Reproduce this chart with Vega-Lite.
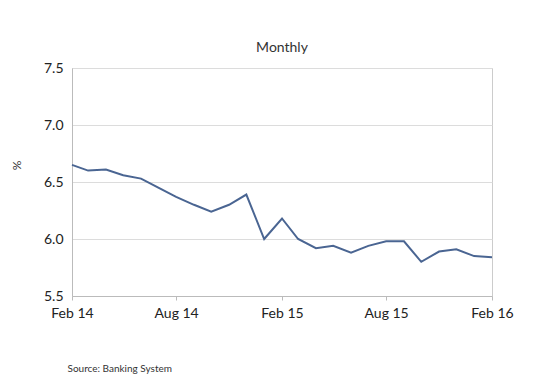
{
  "$schema": "https://vega.github.io/schema/vega-lite/v6.json",
  "width": 420,
  "height": 228,
  "autosize": {"type": "none"},
  "padding": {"left": 72, "top": 68, "right": 62, "bottom": 96},
  "background": "white",
  "title": {"text": "Monthly", "font": "Lato", "fontSize": 14, "fontWeight": "normal", "color": "#333333", "offset": 6, "anchor": "middle"},
  "data": {"values": [
    {"date": "2014-02-01", "value": 6.65},
    {"date": "2014-03-01", "value": 6.60},
    {"date": "2014-04-01", "value": 6.61},
    {"date": "2014-05-01", "value": 6.56},
    {"date": "2014-06-01", "value": 6.53},
    {"date": "2014-07-01", "value": 6.45},
    {"date": "2014-08-01", "value": 6.37},
    {"date": "2014-09-01", "value": 6.30},
    {"date": "2014-10-01", "value": 6.24},
    {"date": "2014-11-01", "value": 6.30},
    {"date": "2014-12-01", "value": 6.39},
    {"date": "2015-01-01", "value": 6.00},
    {"date": "2015-02-01", "value": 6.18},
    {"date": "2015-03-01", "value": 6.00},
    {"date": "2015-04-01", "value": 5.92},
    {"date": "2015-05-01", "value": 5.94},
    {"date": "2015-06-01", "value": 5.88},
    {"date": "2015-07-01", "value": 5.94},
    {"date": "2015-08-01", "value": 5.98},
    {"date": "2015-09-01", "value": 5.98},
    {"date": "2015-10-01", "value": 5.80},
    {"date": "2015-11-01", "value": 5.89},
    {"date": "2015-12-01", "value": 5.91},
    {"date": "2016-01-01", "value": 5.85},
    {"date": "2016-02-01", "value": 5.84}
  ]},
  "mark": {"type": "line", "color": "#4a6592", "strokeWidth": 2},
  "encoding": {
    "x": {
      "field": "date", "type": "temporal", "timeUnit": "utcyearmonth",
      "scale": {"domain": [{"year": 2014, "month": 2, "date": 1, "utc": true}, {"year": 2016, "month": 2, "date": 1, "utc": true}], "nice": false},
      "axis": {
        "values": [
          {"year": 2014, "month": 2, "date": 1, "utc": true},
          {"year": 2014, "month": 8, "date": 1, "utc": true},
          {"year": 2015, "month": 2, "date": 1, "utc": true},
          {"year": 2015, "month": 8, "date": 1, "utc": true},
          {"year": 2016, "month": 2, "date": 1, "utc": true}
        ],
        "format": "%b %y",
        "grid": false,
        "domainColor": "#bbbbbb",
        "tickColor": "#bbbbbb",
        "tickSize": 4,
        "labelPadding": 6,
        "labelFont": "Lato",
        "labelFontSize": 14,
        "labelColor": "#222222",
        "labelAngle": 0,
        "labelFlush": false,
        "title": "Source:  Banking System",
        "titleFont": "Lato",
        "titleFontSize": 10,
        "titleFontWeight": "normal",
        "titleColor": "#333333",
        "titleAnchor": "start",
        "titleAlign": "left",
        "titleX": -5,
        "titleY": 67
      }
    },
    "y": {
      "field": "value", "type": "quantitative",
      "scale": {"domain": [5.5, 7.5], "nice": false, "zero": false},
      "axis": {
        "values": [5.5, 6.0, 6.5, 7.0, 7.5],
        "format": ".1f",
        "ticks": false,
        "gridColor": "#dcdcdc",
        "domainColor": "#bbbbbb",
        "labelPadding": 9,
        "labelFont": "Lato",
        "labelFontSize": 14,
        "labelColor": "#222222",
        "title": "%",
        "titleFont": "Lato",
        "titleFontSize": 12,
        "titleFontWeight": "normal",
        "titleColor": "#333333",
        "titleX": -49,
        "titleY": 97
      }
    }
  },
  "config": {"view": {"stroke": "#cccccc"}}
}
